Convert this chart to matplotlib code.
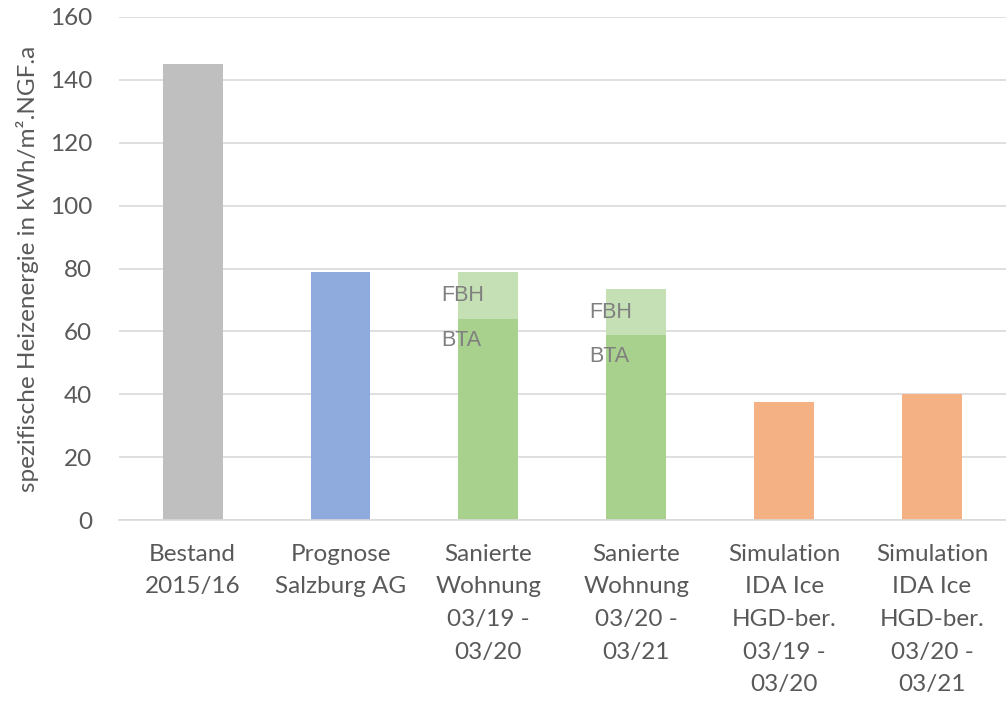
import numpy as np
import matplotlib.pyplot as plt

plt.rcParams['font.family'] = ['Lato', 'DejaVu Sans']

categories = ["Bestand\n2015/16", "Prognose\nSalzburg AG", "Sanierte\nWohnung\n03/19 -\n03/20",
              "Sanierte\nWohnung\n03/20 -\n03/21", "Simulation\nIDA Ice\nHGD-ber.\n03/19 -\n03/20",
              "Simulation\nIDA Ice\nHGD-ber.\n03/20 -\n03/21"]
base_values = [145, 79, 64, 59, 37.5, 40]
fbh_values = [0, 0, 15, 14.5, 0, 0]
base_colors = ["#BFBFBF", "#8FAADC", "#A9D18E", "#A9D18E", "#F4B183", "#F4B183"]
fbh_color = "#C5E0B4"

x = np.arange(len(categories))
width = 0.405

fig = plt.figure(figsize=(10.06, 7.04), dpi=100)
ax = fig.add_axes([0.118, 0.261, 0.882, 0.715])

ax.bar(x, base_values, width, color=base_colors, zorder=2)
ax.bar(x, fbh_values, width, bottom=base_values, color=fbh_color, zorder=2)

# labels for the stacked segments
for i in range(len(x)):
    if fbh_values[i] > 0:
        top = base_values[i] + fbh_values[i]
        ax.text(x[i] - 0.32, top - 7.5, "FBH", ha="left", va="center",
                fontsize=15.5, color="#7F7F7F", family="Liberation Sans", zorder=3)
        ax.text(x[i] - 0.32, base_values[i] - 7, "BTA", ha="left", va="center",
                fontsize=15.5, color="#7F7F7F", family="Liberation Sans", zorder=3)

ax.set_xlim(-0.5, len(categories) - 0.5)
ax.set_ylim(0, 160)
ax.set_yticks(np.arange(0, 161, 20))
ax.set_xticks(x)
ax.set_xticklabels(categories, linespacing=1.68)

ax.yaxis.grid(True, color="#D9D9D9", linewidth=1.2, zorder=0)
ax.set_axisbelow(True)
for s in ["top", "right", "left"]:
    ax.spines[s].set_visible(False)
ax.spines["bottom"].set_color("#D9D9D9")
ax.spines["bottom"].set_linewidth(1.2)

ax.tick_params(axis="both", length=0, labelsize=17.5, colors="#595959")
ax.tick_params(axis="y", pad=19)
ax.tick_params(axis="x", pad=17)

ax.set_ylabel("spezifische Heizenergie in kWh/m².NGF.a", fontsize=17.5, color="#595959", labelpad=8)

plt.savefig("out.png", dpi=100, facecolor="white")
plt.close(fig)
